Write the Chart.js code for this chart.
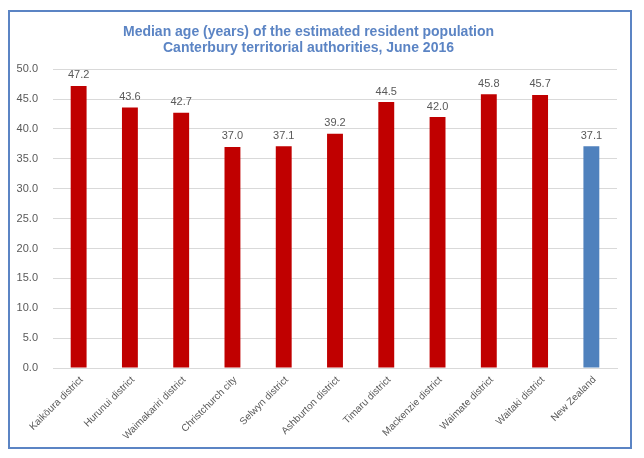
<!DOCTYPE html>
<html><head><meta charset="utf-8">
<script src="https://cdn.jsdelivr.net/npm/chart.js@4/dist/chart.umd.min.js"></script>
<style>
html,body{margin:0;padding:0;background:#fff;}
#wrap{position:absolute;left:0;top:0;width:644px;height:458px;}
#frame{position:absolute;left:8px;top:10px;width:620px;height:435px;border:2px solid #5b84c4;pointer-events:none;}
</style></head>
<body>
<div id="wrap"><canvas id="c" width="644" height="458"></canvas></div>
<div id="frame"></div>
<script>
const categories = ["Kaikōura district","Hurunui district","Waimakariri district","Christchurch city","Selwyn district","Ashburton district","Timaru district","Mackenzie district","Waimate district","Waitaki district","New Zealand"];
const medianAge = [47.2, 43.6, 42.7, 37.0, 37.1, 39.2, 44.5, 42.0, 45.8, 45.7, 37.1];
const barColors = ["#c00000","#c00000","#c00000","#c00000","#c00000","#c00000","#c00000","#c00000","#c00000","#c00000","#4f81bd"];
const titleLines = ["Median age (years) of the estimated resident population","Canterbury territorial authorities, June 2016"];

const labelPlugin = {
  id:'valLabels',
  afterDatasetsDraw(chart){
    const ctx = chart.ctx;
    const meta = chart.getDatasetMeta(0);
    ctx.save();
    ctx.font = '11px "Liberation Sans", Arial, sans-serif';
    ctx.fillStyle = '#595959';
    ctx.textAlign = 'center';
    ctx.textBaseline = 'bottom';
    meta.data.forEach((bar,i)=>{
      ctx.fillText(medianAge[i].toFixed(1), bar.x, bar.y - 5);
    });
    ctx.restore();
  }
};

new Chart(document.getElementById('c'), {
  type:'bar',
  data:{labels:categories, datasets:[{data:medianAge, backgroundColor:barColors, barPercentage:0.31, categoryPercentage:1}]},
  options:{
    responsive:false, animation:false,
    layout:{padding:{left:0,right:27,top:0,bottom:0}},
    plugins:{
      legend:{display:false}, tooltip:{enabled:false},
      title:{display:true, text:titleLines, color:'#5b84c4',
        font:{family:'"Liberation Sans", Arial, sans-serif', size:14, weight:'bold', lineHeight:1.15},
        padding:{top:24,bottom:13}}
    },
    scales:{
      y:{min:0,max:50,
        ticks:{stepSize:5, padding:15, color:'#595959', font:{family:'"Liberation Sans", Arial, sans-serif', size:11}, callback:v=>v.toFixed(1)},
        grid:{color:'#d9d9d9', drawTicks:false}, border:{display:false},
        afterFit(s){s.width=53;}
      },
      x:{
        ticks:{minRotation:45,maxRotation:45, padding:6, labelOffset:3, color:'#595959', font:{family:'"Liberation Sans", Arial, sans-serif', size:10}},
        grid:{display:false, drawTicks:false}, border:{display:true, color:'#d9d9d9'},
        afterFit(s){s.height=90;}
      }
    }
  },
  plugins:[labelPlugin]
});
</script>
</body></html>
